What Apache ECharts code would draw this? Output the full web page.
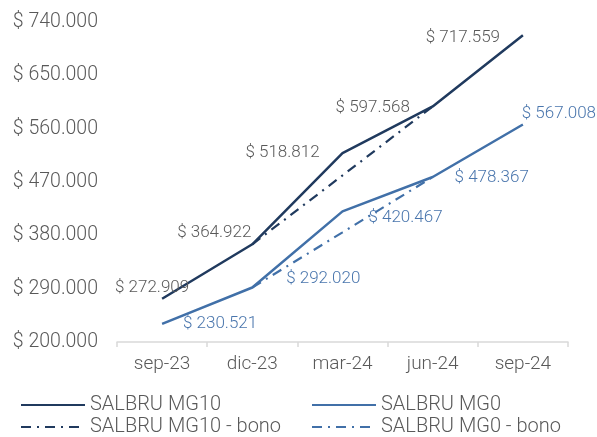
<!DOCTYPE html>
<html><head><meta charset="utf-8">
<script src="https://cdn.jsdelivr.net/npm/echarts@6/dist/echarts.min.js"></script>
<style>html,body{margin:0;padding:0;background:#fff}#c{width:597px;height:437px}</style>
</head><body><div id="c"></div>
<script>
const categories = ['sep-23','dic-23','mar-24','jun-24','sep-24'];
const mg10 = [272909, 364922, 518812, 597568, 717559];
const mg0 = [230521, 292020, 420467, 478367, 567008];
const mg10Bono = [null, 364922, 481000, 597568, null];
const mg0Bono = [null, 292020, 385000, 478367, null];
const yMin = 200000, yMax = 740000, yStep = 90000;

// label placement (layout only): offset of label centre from its point
const mg10LabelOffsets = [[-10,-11],[-38,-12],[-60,0],[-60,1],[-60,2]];
const mg0LabelOffsets = [[58,0],[71,-9],[63,6],[59,1],[36,-11]];

const fmt = v => '$ ' + (v/1000).toFixed(3);
const FONT = 'Roboto';
const GRAY = '#595959';
const C10 = '#203a5e';
const C0 = '#4170a8';
const CL0 = '#4a76ad';

function withLabels(vals, offsets, color) {
  return vals.map((v,i) => ({
    value: v,
    label: { show: true, position: 'inside', align: 'center', verticalAlign: 'middle',
      offset: offsets[i], color: color, fontFamily: FONT, fontWeight: 300, fontSize: 17,
      formatter: p => fmt(p.value) }
  }));
}

function lg(name, left, top) {
  return { left: left, top: top, padding: 0, orient: 'horizontal', itemWidth: 64, itemHeight: 20, itemGap: 0,
    itemStyle: { opacity: 0 },
    textStyle: { color: GRAY, fontFamily: FONT, fontWeight: 300, fontSize: 20, lineHeight: 20 },
    data: [name] };
}

const chart = echarts.init(document.getElementById('c'), null, {renderer:'canvas'});
chart.setOption({
  animation: false,
  backgroundColor: '#fff',
  grid: { left: 117, right: 29, top: 22, bottom: 95, containLabel: false },
  xAxis: {
    type: 'category', data: categories, boundaryGap: true,
    axisLine: { lineStyle: { color: '#d9d9d9', width: 1.5 } },
    axisTick: { show: true, length: 5, lineStyle: { color: '#d9d9d9', width: 1.5 } },
    axisLabel: { color: GRAY, fontFamily: FONT, fontWeight: 300, fontSize: 19, margin: 13 }
  },
  yAxis: {
    type: 'value', min: yMin, max: yMax, interval: yStep,
    splitLine: { show: false }, axisLine: { show: false }, axisTick: { show: false },
    axisLabel: { color: GRAY, fontFamily: FONT, fontWeight: 300, fontSize: 19.5, margin: 19, formatter: v => fmt(v) }
  },
  legend: [
    lg('SALBRU MG10', 20, 395),
    lg('SALBRU MG10 - bono', 20, 417),
    lg('SALBRU MG0', 311, 395),
    lg('SALBRU MG0 - bono', 311, 417)
  ],
  series: [
    { name: 'SALBRU MG10 - bono', type: 'line', data: mg10Bono, symbol: 'none', connectNulls: false,
      lineStyle: { color: C10, width: 2.2, type: [10,6,2,6] }, itemStyle: { color: C10 }, z: 2 },
    { name: 'SALBRU MG0 - bono', type: 'line', data: mg0Bono, symbol: 'none',
      lineStyle: { color: C0, width: 2.2, type: [10,6,2,6] }, itemStyle: { color: C0 }, z: 2 },
    { name: 'SALBRU MG10', type: 'line', data: withLabels(mg10, mg10LabelOffsets, GRAY),
      symbol: 'circle', symbolSize: 0.1, showSymbol: true,
      lineStyle: { color: C10, width: 2.5 }, itemStyle: { color: C10 }, z: 3 },
    { name: 'SALBRU MG0', type: 'line', data: withLabels(mg0, mg0LabelOffsets, CL0),
      symbol: 'circle', symbolSize: 0.1, showSymbol: true,
      lineStyle: { color: C0, width: 2.5 }, itemStyle: { color: C0 }, z: 3 }
  ]
});
</script></body></html>
